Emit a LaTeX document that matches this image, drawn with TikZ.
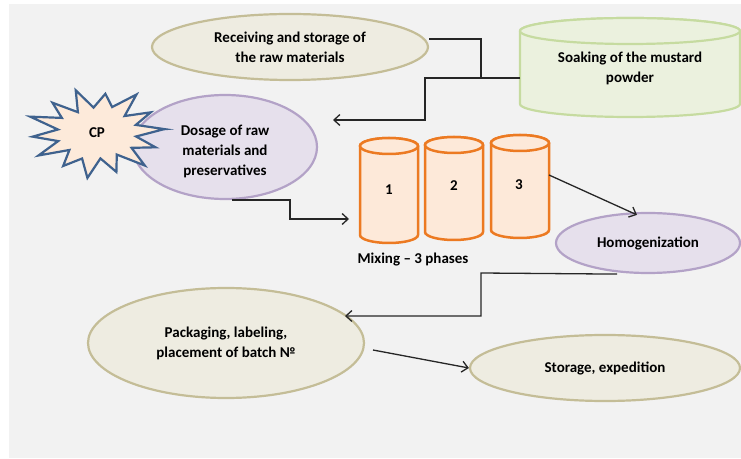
\documentclass[tikz,border=0pt]{standalone}
\usepackage{fontspec}
\setmainfont{Carlito}
\usetikzlibrary{shapes.geometric,arrows.meta}
\definecolor{bg}{HTML}{F2F2F2}
\definecolor{beigefill}{HTML}{EEECE1}
\definecolor{beigeline}{HTML}{C4BD97}
\definecolor{greenfill}{HTML}{EBF1DE}
\definecolor{greenline}{HTML}{C6DBA0}
\definecolor{lavfill}{HTML}{E6E0EC}
\definecolor{lavline}{HTML}{B3A2C7}
\definecolor{orfill}{HTML}{FDE9D9}
\definecolor{orline}{HTML}{EC7A22}
\definecolor{starfill}{HTML}{FDEADA}
\definecolor{starline}{HTML}{3F628E}
\definecolor{conn}{HTML}{262626}
\newcommand\drawcyl[6]{%
  \filldraw[#6] ({#1-#2},#3) -- ({#1-#2},#4) arc[start angle=180,end angle=360,x radius=#2,y radius=#5] -- ({#1+#2},#3) arc[start angle=0,end angle=180,x radius=#2,y radius=#5] -- cycle;
  \draw[#6] (#1,#3) ellipse[x radius=#2,y radius=#5];
}
\begin{document}
\begin{tikzpicture}[x=1pt,y=1pt,
  txt/.style={font=\fontsize{15}{20}\selectfont\bfseries, text=black, align=center},
  oval/.style={ellipse, draw, line width=2.2pt, inner sep=0pt, txt},
  beige/.style={oval, draw=beigeline, fill=beigefill},
  lav/.style={oval, draw=lavline, fill=lavfill},
  greencyl/.style={draw=greenline, fill=greenfill, line width=2.2pt},
  orcyl/.style={draw=orline, fill=orfill, line width=2.5pt},
  starsty/.style={draw=starline, fill=starfill, line width=2.2pt, line join=miter},
  conline/.style={draw=conn, line width=1.3pt},
  arr/.style={conline, -{Straight Barb[length=6pt,width=11pt]}}
]
\useasboundingbox (0,0) rectangle (741,458);
\fill[bg] (9,0) rectangle (741,454);

% soaking cylinder
\drawcyl{630}{110}{427}{354}{13}{greencyl}
\node[txt] (soak) at (630,390) {Soaking of the mustard\\powder};
\coordinate (soakw) at (520,380);

% ovals
\node[beige, minimum width=276pt, minimum height=66pt] (recv) at (290,411) {Receiving and storage of\\the raw materials};
\node[lav, minimum width=184pt, minimum height=104pt] (dos) at (225,311) {};
\node[txt] (dostxt) at (225,307) {Dosage of raw\\materials and\\preservatives};
\node[lav, minimum width=184pt, minimum height=60pt] (homog) at (648,215) {Homogenization};
\node[beige, minimum width=276pt, minimum height=110pt] (pack) at (226,115) {Packaging, labeling,\\placement of batch №};
\node[beige, minimum width=270pt, minimum height=66pt] (stor) at (605,90) {Storage, expedition};

% star
\draw[starsty, shift={(97,325)}] ({67*cos(5)},{43*sin(5)})
  \foreach \ao/\ro/\ai/\ri in {5/1.0/17.86/0.6, 30.71/0.92/43.57/0.56, 56.43/1.05/69.29/0.63, 82.14/0.9/95/0.58, 107.86/1.02/120.71/0.55, 133.57/0.95/146.43/0.62, 159.29/1.05/172.14/0.58, 185/0.95/197.86/0.6, 210.71/1.0/223.57/0.56, 236.43/0.9/249.29/0.62, 262.14/1.03/275/0.58, 287.86/0.93/300.71/0.57, 313.57/1.02/326.43/0.61, 339.29/0.92/352.14/0.58}
  { -- ({\ro*68*cos(\ao)},{\ro*44*sin(\ao)}) -- ({\ri*68*cos(\ai)},{\ri*44*sin(\ai)}) } -- cycle;
\node[txt] (cp) at (97,325) {CP};

% mixing cylinders
\drawcyl{389}{29}{312}{223}{8}{orcyl}
\drawcyl{454}{29}{313}{226}{8}{orcyl}
\drawcyl{520}{29}{315}{228}{8}{orcyl}
\node[txt] (c1) at (389,268) {1};
\node[txt] (c2) at (454,272) {2};
\node[txt] (c3) at (519,273) {3};
\node[txt] (mix) at (413,198) {Mixing – 3 phases};
\coordinate (c3e) at (549,283);
\coordinate (mixin) at (349,239);
\coordinate (dosin) at (333,338);
\coordinate (packin) at (345,142);
\coordinate (packout) at (373,108);

% connectors
\draw[conline] ([yshift=8pt]recv.east) -| (481,380) -- (soakw);
\draw[arr] (soakw) -- (425,380) -- (425,338) -- (dosin);
\draw[arr] ([xshift=7pt]dos.south) -| (290,239) -- (mixin);
\draw[arr] (c3e) -- ([xshift=-11pt,yshift=-3pt]homog.north);
\draw[arr] ([xshift=-31pt]homog.south) -- (481,185) -- (481,142) -- (packin);
\draw[arr] (packout) -- (stor.west);
\end{tikzpicture}
\end{document}
